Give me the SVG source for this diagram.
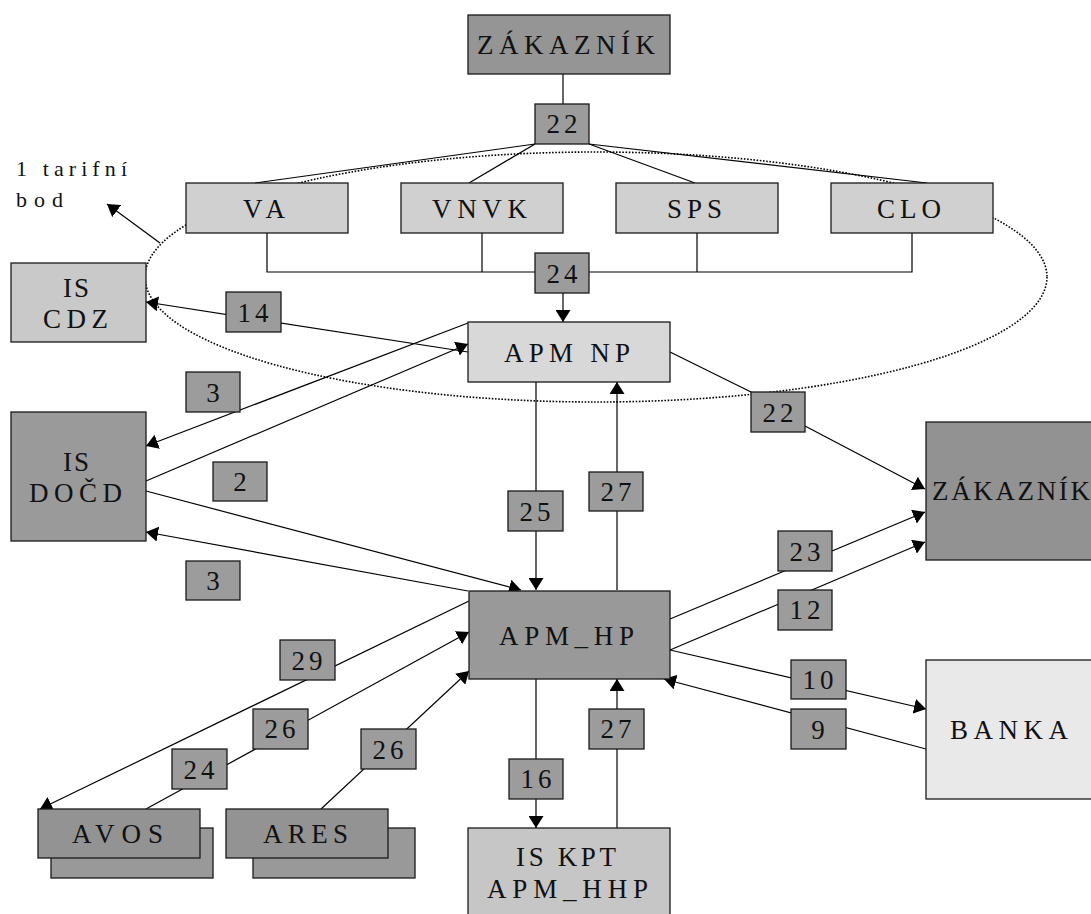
<svg xmlns="http://www.w3.org/2000/svg" width="1091" height="914" viewBox="0 0 1091 914">
<defs>
<marker id="ah" markerUnits="userSpaceOnUse" markerWidth="13" markerHeight="15" refX="12" refY="7.5" orient="auto">
<path d="M0,0 L12,7.5 L0,15 z" fill="#000"/>
</marker>
<style>
.n{stroke:#1a1a1a;stroke-width:1.3}
.dk{fill:#959595}
.lt{fill:#d0d0d0}
.lb{fill:#9c9c9c;stroke:#1a1a1a;stroke-width:1.3}
.c{fill:none;stroke:#000;stroke-width:1.2}
.a{marker-end:url(#ah)}
.t{font-family:"Liberation Serif","Times New Roman",serif;font-size:27px;fill:#111}
.d{font-family:"Liberation Serif","Times New Roman",serif;font-size:27px;fill:#111;text-anchor:middle;letter-spacing:4px}
.dot{fill:none;stroke:#000;stroke-width:1.6;stroke-dasharray:1.6 1.6}
</style>
</defs>
<rect width="1091" height="914" fill="#fff"/>

<ellipse class="dot" cx="596" cy="277" rx="451" ry="125"/>

<g id="connectors">
<line class="c" x1="563" y1="74" x2="563" y2="104"/>
<line class="c" x1="535" y1="144" x2="255" y2="183"/>
<line class="c" x1="535" y1="144" x2="469" y2="183"/>
<line class="c" x1="589" y1="144" x2="695" y2="183"/>
<line class="c" x1="589" y1="144" x2="927" y2="183"/>
<polyline class="c" points="267,233 267,272 912,272 912,233"/>
<line class="c" x1="482" y1="233" x2="482" y2="272"/>
<line class="c" x1="697" y1="233" x2="697" y2="272"/>
<line class="c a" x1="563" y1="293" x2="563" y2="322"/>
<line class="c a" x1="160" y1="243" x2="107" y2="204"/>
<line class="c a" x1="468" y1="352" x2="146" y2="302"/>
<line class="c a" x1="468" y1="323" x2="146" y2="446"/>
<line class="c a" x1="146" y1="481" x2="468" y2="344"/>
<line class="c a" x1="146" y1="491" x2="521" y2="590"/>
<line class="c a" x1="468" y1="591" x2="146" y2="532"/>
<line class="c a" x1="536" y1="382" x2="536" y2="590"/>
<line class="c a" x1="617" y1="590" x2="617" y2="382"/>
<polyline class="c a" points="670,352 751,392 805,426 925,489"/>
<line class="c a" x1="670" y1="619" x2="925" y2="512"/>
<line class="c a" x1="670" y1="650" x2="925" y2="542"/>
<line class="c a" x1="670" y1="650" x2="926" y2="709"/>
<line class="c a" x1="926" y1="749" x2="664" y2="679"/>
<line class="c a" x1="536" y1="679" x2="536" y2="828"/>
<line class="c a" x1="617" y1="828" x2="617" y2="679"/>
<line class="c a" x1="469" y1="601" x2="40" y2="809"/>
<line class="c a" x1="146" y1="809" x2="469" y2="632"/>
<line class="c a" x1="321" y1="809" x2="469" y2="671"/>

<g id="labels">
<rect class="lb" x="535" y="104" width="54" height="40"/><text class="d" x="564" y="133">22</text>
<rect class="lb" x="535" y="253" width="54" height="40"/><text class="d" x="564" y="283">24</text>
<rect class="lb" x="226" y="292" width="55" height="40"/><text class="d" x="255" y="322">14</text>
<rect class="lb" x="186" y="372" width="54" height="40"/><text class="d" x="213" y="402" style="letter-spacing:0">3</text>
<rect class="lb" x="213" y="462" width="54" height="39"/><text class="d" x="240" y="491" style="letter-spacing:0">2</text>
<rect class="lb" x="186" y="561" width="54" height="39"/><text class="d" x="213" y="590" style="letter-spacing:0">3</text>
<rect class="lb" x="508" y="491" width="55" height="40"/><text class="d" x="537" y="521">25</text>
<rect class="lb" x="589" y="472" width="54" height="39"/><text class="d" x="618" y="501">27</text>
<rect class="lb" x="751" y="392" width="54" height="40"/><text class="d" x="780" y="422">22</text>
<rect class="lb" x="778" y="531" width="54" height="40"/><text class="d" x="807" y="561">23</text>
<rect class="lb" x="778" y="590" width="54" height="40"/><text class="d" x="807" y="619">12</text>
<rect class="lb" x="791" y="660" width="55" height="39"/><text class="d" x="820" y="689">10</text>
<rect class="lb" x="791" y="709" width="55" height="40"/><text class="d" x="818" y="739" style="letter-spacing:0">9</text>
<rect class="lb" x="509" y="759" width="54" height="40"/><text class="d" x="538" y="788">16</text>
<rect class="lb" x="589" y="709" width="55" height="40"/><text class="d" x="618" y="738">27</text>
<rect class="lb" x="280" y="640" width="55" height="40"/><text class="d" x="309" y="670">29</text>
<rect class="lb" x="253" y="709" width="55" height="40"/><text class="d" x="282" y="738">26</text>
<rect class="lb" x="172" y="749" width="55" height="40"/><text class="d" x="201" y="779">24</text>
<rect class="lb" x="361" y="729" width="55" height="40"/><text class="d" x="390" y="759">26</text>
</g>
</g>

<g id="tarifni-bod">
<text class="t" x="16" y="176" style="font-size:22px" textLength="111">1 tarifní</text>
<text class="t" x="16" y="207" style="font-size:22px" textLength="47">bod</text>
</g>

<g id="zakaznik-top">
<rect class="n dk" x="468" y="15" width="202" height="59"/>
<text class="t" x="477" y="54" textLength="178">ZÁKAZNÍK</text>
</g>
<g id="va">
<rect class="n lt" x="186" y="183" width="162" height="50"/>
<text class="t" x="243" y="218" textLength="42">VA</text>
</g>
<g id="vnvk">
<rect class="n lt" x="401" y="183" width="162" height="50"/>
<text class="t" x="432" y="218" textLength="95">VNVK</text>
</g>
<g id="sps">
<rect class="n lt" x="616" y="183" width="162" height="50"/>
<text class="t" x="667" y="218" textLength="55">SPS</text>
</g>
<g id="clo">
<rect class="n lt" x="831" y="183" width="162" height="50"/>
<text class="t" x="877" y="218" textLength="64">CLO</text>
</g>
<g id="is-cdz">
<rect class="n" fill="#c9c9c9" x="11" y="263" width="135" height="79"/>
<text class="t" x="63" y="297" textLength="26">IS</text>
<text class="t" x="43" y="328" textLength="65">CDZ</text>
</g>
<g id="apm-np">
<rect class="n" fill="#d8d8d8" x="468" y="322" width="202" height="60"/>
<text class="t" x="504" y="362" textLength="126">APM NP</text>
</g>
<g id="is-docd">
<rect class="n" fill="#9a9a9a" x="11" y="412" width="135" height="129"/>
<text class="t" x="63" y="471" textLength="26">IS</text>
<text class="t" x="29" y="502" textLength="93">DOČD</text>
</g>
<g id="zakaznik-right">
<rect class="n" fill="#929292" x="926" y="422" width="180" height="138"/>
<text class="t" x="932" y="500" textLength="158">ZÁKAZNÍK</text>
</g>
<g id="apm-hp">
<rect class="n" fill="#999999" x="469" y="591" width="201" height="88"/>
<text class="t" x="499" y="645" textLength="135">APM_HP</text>
</g>
<g id="banka">
<rect class="n" fill="#e9e9e9" x="926" y="660" width="180" height="139"/>
<text class="t" x="950" y="739" textLength="118">BANKA</text>
</g>
<g id="is-kpt">
<rect class="n" fill="#c6c6c6" x="468" y="828" width="202" height="100"/>
<text class="t" x="516" y="866" textLength="100">IS KPT</text>
<text class="t" x="487" y="898" textLength="161">APM_HHP</text>
</g>
<g id="avos">
<rect class="n" fill="#999999" x="51" y="828" width="162" height="50"/>
<rect class="n" fill="#939393" x="38" y="809" width="162" height="49"/>
<text class="t" x="72" y="843" textLength="91">AVOS</text>
</g>
<g id="ares">
<rect class="n" fill="#999999" x="253" y="828" width="162" height="50"/>
<rect class="n" fill="#939393" x="226" y="809" width="162" height="49"/>
<text class="t" x="263" y="843" textLength="85">ARES</text>
</g>
</svg>
